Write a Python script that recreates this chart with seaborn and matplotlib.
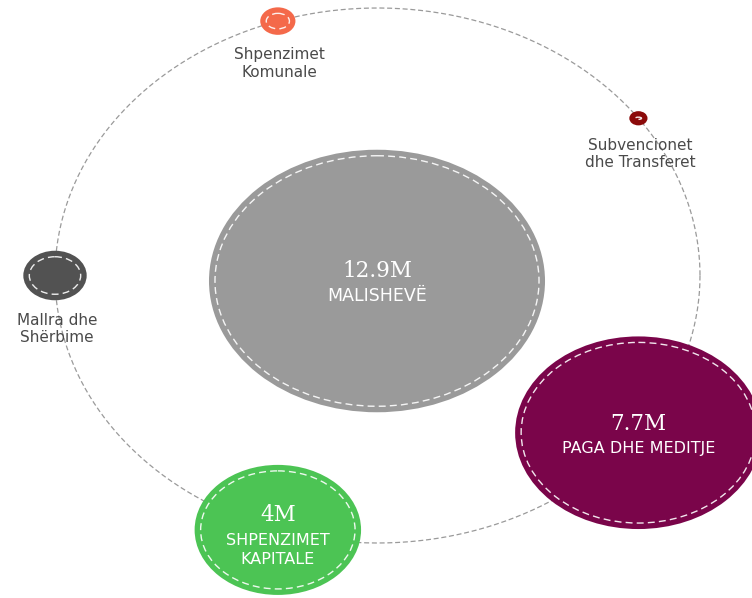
import numpy as np
import pandas as pd
import seaborn as sns
import matplotlib
matplotlib.use("Agg")
import matplotlib.pyplot as plt
from matplotlib.patches import Ellipse

# ---------------- data ----------------
categories = ["Subvencionet dhe Transferet", "Shpenzimet Komunale",
              "Mallra dhe Shërbime", "Shpenzimet Kapitale", "Paga dhe Meditje"]
values = [0.1, 0.3, 0.8, 4.0, 7.7]
value_labels = ["0.1M", "0.3M", "0.8M", "4M", "7.7M"]
label_lines = [["Subvencionet", "dhe Transferet"],
               ["Shpenzimet", "Komunale"],
               ["Mallra dhe", "Shërbime"],
               ["SHPENZIMET", "KAPITALE"],
               ["PAGA DHE MEDITJE"]]
total_name = "MALISHEVË"
total_value = 12.9
total_label = "12.9M"

# ---------------- style ----------------
node_colors = ["#8b0a0a", "#f4694a", "#525252", "#4cc454", "#7a054a"]
center_color = "#9a9a9a"
W, H = 752, 598
ORB_CX, ORB_CY, ORB_RX, ORB_RY = 377.5, 275.5, 322.5, 267.5
CEN_X, CEN_Y = 377.0, 281.0
XSTRETCH = 1.28


def radius(v):
    return 28.3 * v ** 0.6


sns.set_theme(style="white")
fig = plt.figure(figsize=(W / 100, H / 100), dpi=100)
ax = fig.add_axes([0, 0, 1, 1])

# orbit
theta = np.linspace(0, 2 * np.pi, 600)
orbit = pd.DataFrame({"x": ORB_CX + ORB_RX * np.cos(theta),
                      "y": ORB_CY + ORB_RY * np.sin(theta)})
sns.lineplot(data=orbit, x="x", y="y", sort=False, estimator=None,
             color="#9a9a9a", lw=0.9, ax=ax, zorder=1)
ax.lines[-1].set_linestyle((0, (4, 2.2)))
ax.set_xlim(0, W)
ax.set_ylim(H, 0)
ax.axis("off")


def draw_node(x, y, v, color):
    rv = radius(v)
    rh = rv * XSTRETCH
    ax.add_patch(Ellipse((x, y), 2 * rh, 2 * rv, facecolor=color,
                         edgecolor=color, lw=0, zorder=2))
    ax.add_patch(Ellipse((x, y), 2 * max(rh - 6, 1.5), 2 * max(rv - 6, 1.0),
                         facecolor="none", edgecolor="white", lw=1.0,
                         linestyle=(0, (5, 3)), alpha=0.9, zorder=3))
    return rh, rv


# center node
rh, rv = draw_node(CEN_X, CEN_Y, total_value, center_color)
ax.text(CEN_X, CEN_Y - 10, total_label, ha="center", va="center",
        family="DejaVu Serif", fontsize=15.5, color="white", zorder=4)
ax.text(CEN_X, CEN_Y + 15, total_name, ha="center", va="center",
        family="DejaVu Sans", fontsize=12.5, color="white", zorder=4)

# orbit nodes
for i, (v, vl, lines, c) in enumerate(zip(values, value_labels, label_lines, node_colors)):
    ang = np.deg2rad(36 + 72 * i)
    x = ORB_CX + ORB_RX * np.cos(ang)
    y = ORB_CY - ORB_RY * np.sin(ang)
    rh, rv = draw_node(x, y, v, c)
    if v >= 1:
        if len(lines) == 1:
            ax.text(x, y - 9, vl, ha="center", va="center",
                    family="DejaVu Serif", fontsize=15.5, color="white", zorder=4)
            ax.text(x, y + 16, lines[0], ha="center", va="center",
                    family="DejaVu Sans", fontsize=11.5, color="white", zorder=4)
        else:
            ax.text(x, y - 15, vl, ha="center", va="center",
                    family="DejaVu Serif", fontsize=15.5, color="white", zorder=4)
            for k, ln in enumerate(lines):
                ax.text(x, y + 11 + 19 * k, ln, ha="center", va="center",
                        family="DejaVu Sans", fontsize=11.5, color="white", zorder=4)
    else:
        for k, ln in enumerate(lines):
            ax.text(x + 2, y + rv + 20 + 17.5 * k, ln, ha="center", va="center",
                    family="DejaVu Sans", fontsize=11, color="#4a4a4a", zorder=4)

fig.savefig("out.png", dpi=100)
